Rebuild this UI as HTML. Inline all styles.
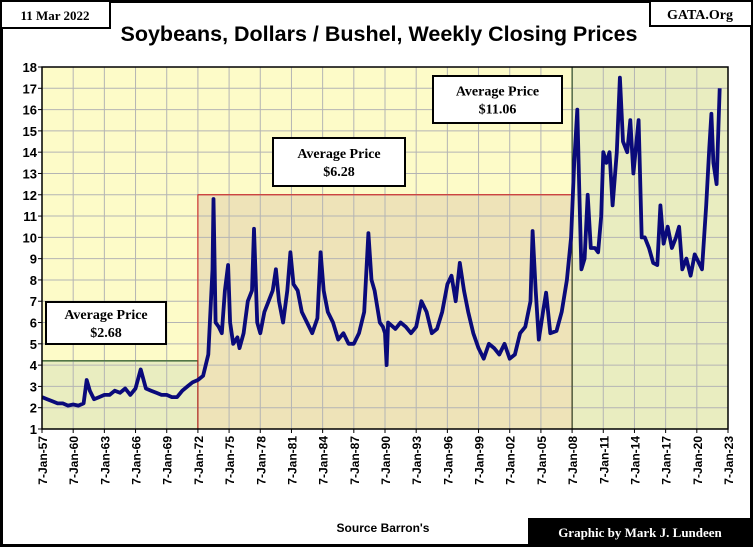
<!DOCTYPE html>
<html><head><meta charset="utf-8"><style>
body{margin:0;width:753px;height:547px;overflow:hidden;background:#fff;font-family:"Liberation Sans",sans-serif}
</style></head><body>
<svg width="753" height="547" xmlns="http://www.w3.org/2000/svg">
<rect x="1.5" y="1.5" width="750" height="544" fill="#fff" stroke="#000" stroke-width="3"/>
<g id="plot"></g>
<g id="axes"></g>
<rect x="1" y="1" width="109" height="27" fill="#fff" stroke="#000" stroke-width="2"/>
<text x="55" y="20" text-anchor="middle" font-family="Liberation Serif,serif" font-weight="bold" font-size="13">11 Mar 2022</text>
<rect x="650" y="1" width="102" height="25" fill="#fff" stroke="#000" stroke-width="2"/>
<text x="700" y="19" text-anchor="middle" font-family="Liberation Serif,serif" font-weight="bold" font-size="14">GATA.Org</text>
<text x="379" y="41" text-anchor="middle" font-weight="bold" font-size="21.5">Soybeans, Dollars / Bushel, Weekly Closing Prices</text>
<text x="383" y="532" text-anchor="middle" font-weight="bold" font-size="12">Source Barron's</text>
<rect x="528" y="518" width="225" height="29" fill="#000"/>
<text x="640" y="537" text-anchor="middle" fill="#fff" font-family="Liberation Serif,serif" font-weight="bold" font-size="13">Graphic by Mark J. Lundeen</text>
</svg>
<script>
const years=[1957,1957.5,1958,1958.5,1959,1959.5,1960,1960.5,1961,1961.3,1961.6,1962,1962.5,1963,1963.5,1964,1964.5,1965,1965.5,1966,1966.5,1967,1967.5,1968,1968.5,1969,1969.5,1970,1970.5,1971,1971.5,1972,1972.5,1973,1973.2,1973.4,1973.5,1973.7,1974,1974.3,1974.6,1974.9,1975.1,1975.4,1975.8,1976,1976.4,1976.8,1977.2,1977.4,1977.7,1978,1978.4,1978.8,1979.2,1979.5,1979.8,1980.2,1980.6,1980.9,1981.2,1981.6,1982,1982.5,1983,1983.5,1983.8,1984.1,1984.5,1985,1985.5,1986,1986.5,1987,1987.5,1988,1988.4,1988.7,1989,1989.5,1989.8,1990,1990.15,1990.3,1991,1991.5,1992,1992.5,1993,1993.5,1994,1994.5,1995,1995.5,1996,1996.4,1996.8,1997.2,1997.6,1998,1998.5,1999,1999.5,2000,2000.5,2001,2001.5,2002,2002.5,2003,2003.5,2004,2004.2,2004.5,2004.8,2005.2,2005.5,2005.9,2006.5,2007,2007.5,2007.9,2008.2,2008.5,2008.7,2008.9,2009.2,2009.5,2009.8,2010.2,2010.5,2010.8,2011,2011.3,2011.6,2011.9,2012.3,2012.6,2012.9,2013.3,2013.6,2013.9,2014.2,2014.4,2014.7,2015,2015.4,2015.8,2016.2,2016.5,2016.8,2017.2,2017.6,2018,2018.3,2018.6,2019,2019.4,2019.8,2020.2,2020.5,2020.9,2021.2,2021.4,2021.6,2021.9,2022,2022.2];
const prices=[2.5,2.4,2.3,2.2,2.2,2.1,2.15,2.1,2.2,3.3,2.8,2.4,2.5,2.6,2.6,2.8,2.7,2.9,2.6,2.9,3.8,2.9,2.8,2.7,2.6,2.6,2.5,2.5,2.8,3.0,3.2,3.3,3.5,4.5,6.5,8.5,11.8,6,5.8,5.5,7.5,8.7,6,5,5.3,4.8,5.5,7,7.5,10.4,6,5.5,6.5,7,7.5,8.5,7,6,7.5,9.3,7.8,7.5,6.5,6,5.5,6.2,9.3,7.5,6.5,6,5.2,5.5,5,5,5.5,6.5,10.2,8,7.5,6,5.8,5.5,4,6,5.7,6,5.8,5.5,5.8,7,6.5,5.5,5.7,6.5,7.8,8.2,7,8.8,7.5,6.5,5.5,4.8,4.3,5,4.8,4.5,5,4.3,4.5,5.5,5.8,7,10.3,7.5,5.2,6.5,7.4,5.5,5.6,6.5,8,10,13.5,16,12,8.5,9,12,9.5,9.5,9.3,11,14,13.5,14,11.5,14,17.5,14.5,14,15.5,13,14.5,15.5,10,10,9.5,8.8,8.7,11.5,9.7,10.5,9.5,10,10.5,8.5,9,8.2,9.2,8.8,8.5,11.5,14.2,15.8,13.5,12.5,14,17];
const yTicks=[1,2,3,4,5,6,7,8,9,10,11,12,13,14,15,16,17,18];
const xTickYears=[1957,1960,1963,1966,1969,1972,1975,1978,1981,1984,1987,1990,1993,1996,1999,2002,2005,2008,2011,2014,2017,2020,2023];
const regionStart=[1957,1972,2008];
const regionEnd=[1972,2008,2023];
const regionTop=[4.2,12,18];
const avgLabels=["$2.68","$6.28","$11.06"];
const NS="http://www.w3.org/2000/svg";
const L=42,R=728,T=67,B=429;
const xs=y=>L+(y-1957)/(2023-1957)*(R-L);
const ys=v=>B-(v-1)/(18-1)*(B-T);
function mk(tag,attrs,parent){const e=document.createElementNS(NS,tag);for(const k in attrs)e.setAttribute(k,attrs[k]);parent.appendChild(e);return e;}
const plot=document.getElementById('plot'),axes=document.getElementById('axes');
let bg=mk('rect',{x:L,y:T,width:R-L,height:B-T,fill:'#fdfbc8'},plot);


const rf=['#e9edc0','#eee3b8','#e9edc0'],rs=['#1a4a1a','#cc2222','#1a3a1a'];
for(let i=0;i<3;i++){
 let r=mk('rect',{x:xs(regionStart[i]),y:ys(regionTop[i]),width:xs(regionEnd[i])-xs(regionStart[i]),height:B-ys(regionTop[i]),fill:rf[i],stroke:rs[i],'stroke-width':1},plot);
 
 
}
yTicks.forEach(v=>{let l=mk('line',{x1:L,x2:R,y1:ys(v),y2:ys(v),stroke:'#b4b4b4','stroke-width':1},plot);
 
 
 let t=mk('text',{x:L-5,y:ys(v)+5,'text-anchor':'end','font-weight':'bold','font-size':13},axes);t.textContent=v;
 
 
 mk('line',{x1:L-4,x2:L,y1:ys(v),y2:ys(v),stroke:'#000'},axes);
});
xTickYears.forEach(y=>{let l=mk('line',{y1:T,y2:B,x1:xs(y),x2:xs(y),stroke:'#b4b4b4','stroke-width':1},plot);
 
 
 mk('line',{x1:xs(y),x2:xs(y),y1:B,y2:B+4,stroke:'#000'},axes);
 let t=mk('text',{transform:`translate(${xs(y)+5},${B+7}) rotate(-90)`,'text-anchor':'end','font-weight':'bold','font-size':12},axes);
 t.textContent='7-Jan-'+String(y%100).padStart(2,'0');
 
 
});
for(let i=0;i<3;i++){let r=mk('rect',{x:xs(regionStart[i]),y:ys(regionTop[i]),width:xs(regionEnd[i])-xs(regionStart[i]),height:B-ys(regionTop[i]),fill:'none',stroke:rs[i],'stroke-width':1},plot);
 
 }
let ln=mk('polyline',{points:years.map((y,i)=>xs(y).toFixed(1)+','+ys(prices[i]).toFixed(1)).join(' '),fill:'none',stroke:'#0a0a7a','stroke-width':3.8,'stroke-linejoin':'round'},plot);


let fr=mk('rect',{x:L,y:T,width:R-L,height:B-T,fill:'none',stroke:'#000','stroke-width':1.5},axes);


const boxes=[[46,302,120,42],[273,138,132,48],[433,76,129,47]];
boxes.forEach((b,i)=>{let g=mk('g',{},axes);
 
 
 mk('rect',{x:b[0],y:b[1],width:b[2],height:b[3],fill:'#fff',stroke:'#000','stroke-width':2},g);
 let t1=mk('text',{x:b[0]+b[2]/2,y:b[1]+b[3]/2-4,'text-anchor':'middle','font-family':'Liberation Serif,serif','font-weight':'bold','font-size':14},g);t1.textContent='Average Price';
 let t2=mk('text',{x:b[0]+b[2]/2,y:b[1]+b[3]/2+14,'text-anchor':'middle','font-family':'Liberation Serif,serif','font-weight':'bold','font-size':14},g);t2.textContent=avgLabels[i];
});
</script>
</body></html>
